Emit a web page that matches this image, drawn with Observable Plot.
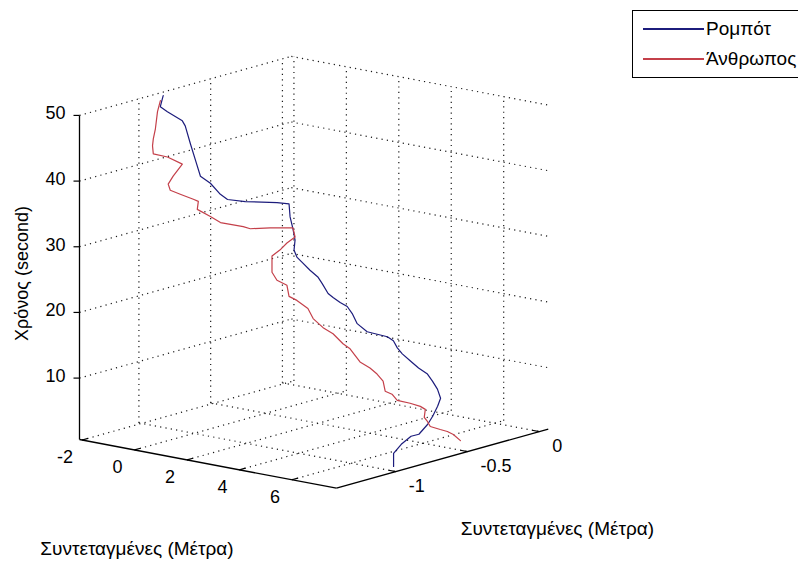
<!DOCTYPE html>
<html>
<head>
<meta charset="utf-8">
<script src="https://cdn.jsdelivr.net/npm/d3@7"></script>
<script src="https://cdn.jsdelivr.net/npm/@observablehq/plot@0.6"></script>
<style>
  html, body { margin: 0; padding: 0; background: #fff; overflow: hidden; }
  #wrap { position: relative; width: 798px; height: 562px; }
  #legend {
    position: absolute; left: 632px; top: 10px; width: 200px; height: 66px;
    border: 1px solid #000; background: #fff;
    font-family: "Liberation Sans", Arial, sans-serif; font-size: 19px; color: #000;
  }
  #legend .row { position: absolute; left: 10px; height: 22px; display: flex; align-items: center; }
  #legend .sw { display: inline-block; width: 61px; height: 1.3px; margin-right: 2px; }
</style>
</head>
<body>
<div id="wrap">
  <div id="legend"></div>
</div>
<script>
// Robot trajectory: time (s), x and y coordinates (m)
const robotT = [0.65, 2.64, 3.54, 4.33, 4.45, 5.20, 5.95, 7.00, 7.58, 8.88,
  9.96, 10.89, 11.55, 12.39, 13.24, 14.01, 14.97, 15.41, 15.49, 15.60,
  16.54, 17.93, 18.86, 19.27, 19.83, 20.30, 21.66, 22.47, 23.31, 24.18,
  24.93, 25.92, 27.48, 29.11, 30.86, 32.82, 33.67, 34.67, 35.29, 36.38,
  37.78, 38.56, 40.87, 43.18, 45.79, 46.47, 47.42, 47.99, 49.76];
const robotX = [7.23, 7.23, 7.14, 7.13, 7.21, 7.00, 6.86, 6.72, 6.45, 6.33,
  6.14, 5.95, 5.61, 5.30, 4.99, 4.80, 4.65, 4.42, 4.11, 3.65,
  3.27, 3.08, 2.89, 2.62, 2.35, 2.16, 1.93, 1.78, 1.47, 1.20,
  0.97, 0.86, 0.90, 0.82, 0.71, 0.67, 0.76, 0.48, 0.24, 0.24,
  -0.14, -0.52, -0.71, -0.90, -1.10, -1.21, -1.78, -2.05, -1.94];
const robotY = [-0.93, -0.93, -0.86, -0.79, -0.75, -0.65, -0.59, -0.53, -0.46, -0.46,
  -0.46, -0.46, -0.46, -0.46, -0.46, -0.46, -0.46, -0.46, -0.46, -0.46,
  -0.46, -0.46, -0.46, -0.46, -0.46, -0.46, -0.46, -0.46, -0.46, -0.46,
  -0.46, -0.46, -0.46, -0.46, -0.46, -0.46, -0.56, -0.73, -0.81, -0.86,
  -0.86, -0.86, -0.86, -0.86, -0.86, -0.86, -0.86, -0.86, -0.86];

// Human trajectory: time (s), x and y coordinates (m)
const humanT = [0.68, 1.40, 1.69, 1.79, 1.97, 2.65, 3.17, 4.43, 4.74, 4.92,
  5.00, 5.78, 6.04, 7.51, 8.41, 9.13, 9.76, 11.68, 12.45, 13.90,
  14.74, 16.04, 17.43, 18.34, 18.72, 20.35, 20.83, 21.91, 24.37, 25.51,
  26.79, 27.94, 29.26, 29.95, 30.26, 30.99, 31.57, 32.72, 33.42, 34.67,
  34.84, 35.23, 35.55, 36.42, 37.79, 39.88, 41.56, 41.62, 42.82, 43.92,
  45.51, 48.18, 49.95];
const humanX = [6.66, 6.39, 6.16, 5.89, 5.51, 5.40, 5.28, 5.32, 5.13, 4.74,
  4.25, 4.05, 3.79, 3.71, 3.48, 3.21, 2.83, 2.56, 2.40, 2.13,
  1.86, 1.59, 1.39, 0.97, 0.67, 0.59, 0.21, 0.02, 0.02, 0.32,
  0.59, 0.90, 0.82, 0.66, 0.45, 0.51, -0.03, -0.14, -0.64, -0.60,
  -0.79, -1.29, -1.67, -1.75, -1.56, -1.21, -1.23, -1.77, -1.80, -1.77,
  -1.69, -1.61, -1.50];
const humanY = [-0.36, -0.36, -0.36, -0.36, -0.36, -0.36, -0.36, -0.36, -0.36, -0.36,
  -0.36, -0.36, -0.36, -0.36, -0.36, -0.36, -0.36, -0.38, -0.40, -0.42,
  -0.44, -0.46, -0.46, -0.46, -0.46, -0.46, -0.46, -0.46, -0.46, -0.46,
  -0.46, -0.46, -0.46, -0.59, -0.69, -0.75, -0.81, -0.86, -0.86, -0.86,
  -0.86, -0.86, -0.86, -0.86, -0.86, -0.86, -0.96, -0.96, -0.96, -0.96,
  -0.96, -0.96, -0.96];

const seriesNames = ["Ρομπότ", "Άνθρωπος"];
const seriesColors = ["#1c1c7c", "#c4404a"];

// Axis ticks and limits
const xTicks = [-2, 0, 2, 4, 6];
const yTicks = [-1, -0.5, 0];
const zTicks = [10, 20, 30, 40, 50];
const xLim = [-2.1, 7.7];
const yLim = [-1.414, 0.062];
const zLim = [0.65, 50];

const xTitle = "Συντεταγμένες (Μέτρα)";
const yTitle = "Συντεταγμένες (Μέτρα)";
const zTitle = "Χρόνος (second)";

// Orthographic 3D view (azimuth / elevation) of a unit plot box
const az = 39.5 * Math.PI / 180, el = 13.3 * Math.PI / 180;
const ca = Math.cos(az), sa = Math.sin(az), ce = Math.cos(el), se = Math.sin(el);
function proj(x, y, z) {
  const u = (x - xLim[0]) / (xLim[1] - xLim[0]);
  const v = (y - yLim[0]) / (yLim[1] - yLim[0]);
  const w = (z - zLim[0]) / (zLim[1] - zLim[0]);
  return {X: u * ca + v * sa, Y: -u * sa * se + v * ca * se + w * ce};
}
function seg(a, b) {
  const p = proj(...a), q = proj(...b);
  return {x1: p.X, y1: p.Y, x2: q.X, y2: q.Y};
}

const [x0, x1] = xLim, [y0, y1] = yLim, [z0, z1] = zLim;

// Grid lines on the floor and the two back walls
const grid = [];
for (const x of xTicks) {
  grid.push(seg([x, y0, z0], [x, y1, z0]));       // floor
  grid.push(seg([x, y1, z0], [x, y1, z1]));       // back wall y = max
}
for (const y of yTicks) {
  grid.push(seg([x0, y, z0], [x1, y, z0]));       // floor
  grid.push(seg([x0, y, z0], [x0, y, z1]));       // side wall x = min
}
for (const z of zTicks) {
  grid.push(seg([x0, y0, z], [x0, y1, z]));       // side wall
  grid.push(seg([x0, y1, z], [x1, y1, z]));       // back wall
}

// Axis lines
const axes = [
  seg([x0, y0, z0], [x1, y0, z0]),
  seg([x1, y0, z0], [x1, y1, z0]),
  seg([x0, y0, z0], [x0, y0, z1])
];

const K = 333; // pixels per unit of the projected box
const W = 798, H = 562, ox = 79, oy = 439;
const font = "Liberation Sans, Arial, sans-serif";

// Tick marks (z ticks point left, horizontally on screen)
const tickLen = 0.028;
const ticks = [
  ...xTicks.map(x => seg([x, y0, z0], [x, y0 + tickLen * (y1 - y0), z0])),
  ...yTicks.map(y => seg([x1, y, z0], [x1 - tickLen * (x1 - x0), y, z0])),
  ...zTicks.map(z => {
    const p = proj(x0, y0, z);
    return {x1: p.X, y1: p.Y, x2: p.X - 6 / K, y2: p.Y};
  })
];

const xLabels = xTicks.map(x => ({...proj(x, y0, z0), label: String(x)}));
const yLabels = yTicks.map(y => ({...proj(x1, y, z0), label: String(y)}));
const zLabels = zTicks.map(z => ({...proj(x0, y0, z), label: String(z)}));

const robot = robotT.map((t, i) => ({...proj(robotX[i], robotY[i], t), name: seriesNames[0]}));
const human = humanT.map((t, i) => ({...proj(humanX[i], humanY[i], t), name: seriesNames[1]}));

const chart = Plot.plot({
  width: W, height: H, margin: 0,
  style: {background: "#fff"},
  x: {domain: [-ox / K, (W - ox) / K], axis: null},
  y: {domain: [-(H - oy) / K, oy / K], axis: null},
  marks: [
    Plot.link(grid, {x1: "x1", y1: "y1", x2: "x2", y2: "y2",
      stroke: "#1a1a1a", strokeWidth: 1.2, strokeDasharray: "1.2,4.2"}),
    Plot.link(axes, {x1: "x1", y1: "y1", x2: "x2", y2: "y2", stroke: "#000", strokeWidth: 1.3}),
    Plot.link(ticks, {x1: "x1", y1: "y1", x2: "x2", y2: "y2", stroke: "#000", strokeWidth: 1.2}),
    Plot.line(robot, {x: "X", y: "Y", stroke: seriesColors[0], strokeWidth: 1.2}),
    Plot.line(human, {x: "X", y: "Y", stroke: seriesColors[1], strokeWidth: 1.2}),
    Plot.text(xLabels, {x: "X", y: "Y", text: "label", dx: -17, dy: 17, fontSize: 18, fontFamily: font, fill: "#000"}),
    Plot.text(yLabels, {x: "X", y: "Y", text: "label", dx: 13, dy: 15, textAnchor: "start", fontSize: 18, fontFamily: font, fill: "#000"}),
    Plot.text(zLabels, {x: "X", y: "Y", text: "label", dx: -14, dy: -2, textAnchor: "end", fontSize: 18, fontFamily: font, fill: "#000"}),
    Plot.text([proj((x0 + x1) / 2, y0, z0)], {x: "X", y: "Y", text: [xTitle], dx: -71, dy: 85, fontSize: 19, fontFamily: font, fill: "#000"}),
    Plot.text([proj(x1, (y0 + y1) / 2, z0)], {x: "X", y: "Y", text: [yTitle], dx: 115, dy: 70, fontSize: 19, fontFamily: font, fill: "#000"}),
    Plot.text([proj(x0, y0, (z0 + z1) / 2)], {x: "X", y: "Y", text: [zTitle], dx: -57, dy: -4, rotate: -90, fontSize: 18, fontFamily: font, fill: "#000"})
  ]
});
document.getElementById("wrap").prepend(chart);

// Legend
const legend = document.getElementById("legend");
seriesNames.forEach((name, i) => {
  const row = document.createElement("div");
  row.className = "row";
  row.style.top = (7 + i * 30) + "px";
  const sw = document.createElement("span");
  sw.className = "sw";
  sw.style.background = seriesColors[i];
  const label = document.createElement("span");
  label.textContent = name;
  row.append(sw, label);
  legend.append(row);
});
</script>
</body>
</html>
